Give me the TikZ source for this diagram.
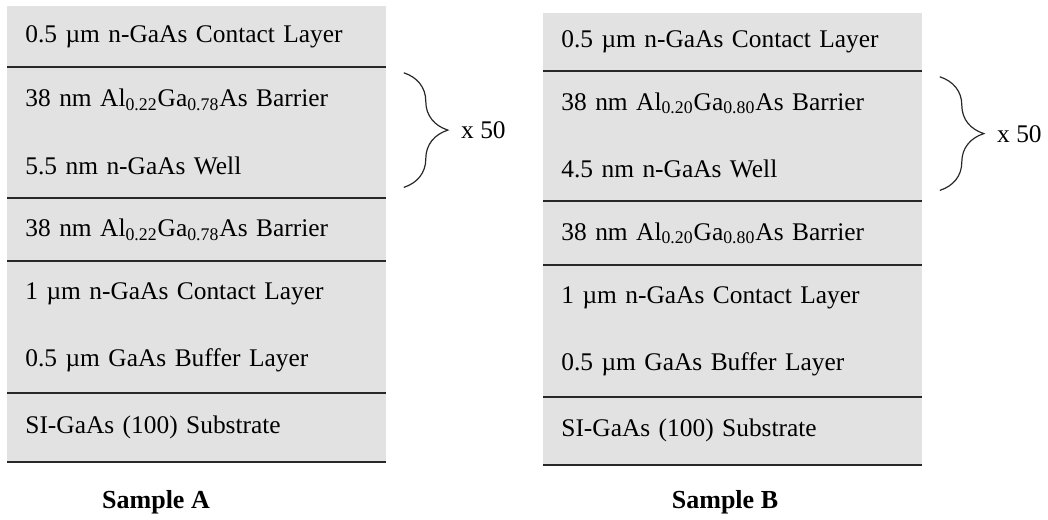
\documentclass[tikz,border=0pt]{standalone}
\usepackage{fontspec}
\setmainfont{Liberation Serif}
\usetikzlibrary{positioning,calc,decorations.pathreplacing}
\definecolor{layerfill}{RGB}{226,226,226}
\definecolor{sepline}{RGB}{40,40,40}
\begin{document}
\begin{tikzpicture}[x=0.5pt,y=-0.5pt,
    layer/.style={fill=layerfill, draw=layerfill, line width=0.4pt,
      minimum width=189pt, text width=171pt, inner xsep=9pt, inner ysep=0pt,
      align=left, font=\fontsize{12.7}{15}\selectfont},
    sep/.style={draw=sepline, line width=1pt},
    rep/.style={draw=sepline, line width=0.6pt, decorate,
      decoration={brace, amplitude=22pt}},
    count/.style={anchor=west, inner sep=0pt, font=\fontsize{12.7}{15}\selectfont},
    lbl/.style={font=\fontsize{13}{15}\selectfont\bfseries}]
    \useasboundingbox (0,0) rectangle (1048,519);
    % sample A
    \node [layer, minimum height=30pt, anchor=north west] (a1) at (7,6) {0.5 µm n-GaAs Contact Layer};
    \node [layer, minimum height=32.5pt, below=0pt of a1] (a2) {38 nm Al\textsubscript{0.22}Ga\textsubscript{0.78}As Barrier};
    \node [layer, minimum height=32.5pt, below=0pt of a2] (a3) {5.5 nm n-GaAs Well};
    \node [layer, minimum height=31pt, below=0pt of a3] (a4) {38 nm Al\textsubscript{0.22}Ga\textsubscript{0.78}As Barrier};
    \node [layer, minimum height=32.5pt, below=0pt of a4] (a5) {1 µm n-GaAs Contact Layer};
    \node [layer, minimum height=32.5pt, below=0pt of a5] (a6) {0.5 µm GaAs Buffer Layer};
    \node [layer, minimum height=34pt, below=0pt of a6] (a7) {SI-GaAs (100) Substrate};
    \draw [sep] (a1.south west) -- (a1.south east);
    \draw [sep] (a3.south west) -- (a3.south east);
    \draw [sep] (a4.south west) -- (a4.south east);
    \draw [sep] (a6.south west) -- (a6.south east);
    \draw [sep] (a7.south west) -- (a7.south east);
    \draw [rep] ($(a2.north east)+(18,6)$) -- ($(a3.south east)+(18,-11)$);
    \node [count] (na) at ($(a2.south east)+(75,-2)$) {x 50};
    \node [lbl] (la) at (156,502) {Sample A};
    % sample B
    \node [layer, minimum height=28.5pt, anchor=north west] (b1) at (543,13) {0.5 µm n-GaAs Contact Layer};
    \node [layer, minimum height=32.25pt, below=0pt of b1] (b2) {38 nm Al\textsubscript{0.20}Ga\textsubscript{0.80}As Barrier};
    \node [layer, minimum height=32.25pt, below=0pt of b2] (b3) {4.5 nm n-GaAs Well};
    \node [layer, minimum height=31.5pt, below=0pt of b3] (b4) {38 nm Al\textsubscript{0.20}Ga\textsubscript{0.80}As Barrier};
    \node [layer, minimum height=32.5pt, below=0pt of b4] (b5) {1 µm n-GaAs Contact Layer};
    \node [layer, minimum height=32.5pt, below=0pt of b5] (b6) {0.5 µm GaAs Buffer Layer};
    \node [layer, minimum height=33.5pt, below=0pt of b6] (b7) {SI-GaAs (100) Substrate};
    \draw [sep] (b1.south west) -- (b1.south east);
    \draw [sep] (b3.south west) -- (b3.south east);
    \draw [sep] (b4.south west) -- (b4.south east);
    \draw [sep] (b6.south west) -- (b6.south east);
    \draw [sep] (b7.south west) -- (b7.south east);
    \draw [rep] ($(b2.north east)+(18,6)$) -- ($(b3.south east)+(18,-11)$);
    \node [count] (nb) at ($(b2.south east)+(75,-2)$) {x 50};
    \node [lbl] (lb) at (725,502) {Sample B};
\end{tikzpicture}
\end{document}
